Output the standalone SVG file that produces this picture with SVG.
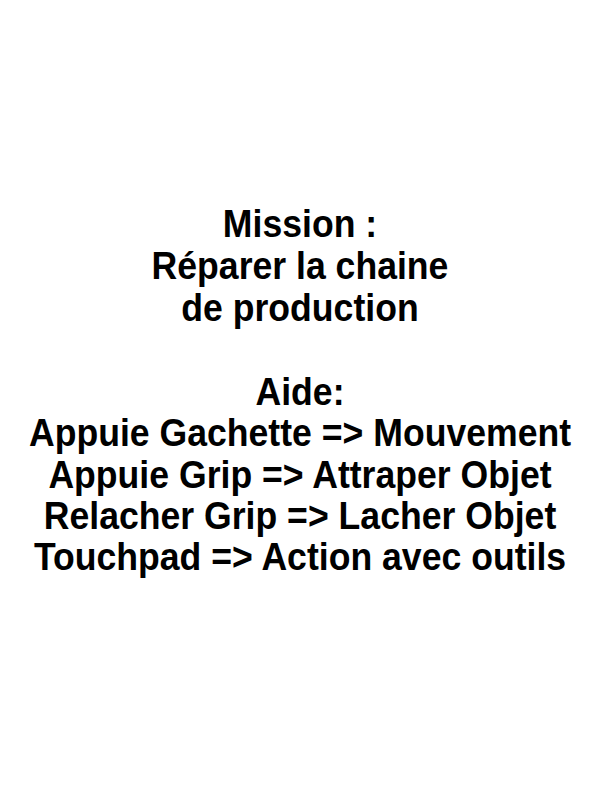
<svg xmlns="http://www.w3.org/2000/svg" width="600" height="800" viewBox="0 0 600 800">
<style>
text{font-family:"Liberation Sans",Arial,sans-serif;font-weight:bold;font-size:38.5px;fill:#000;text-anchor:middle}
</style>
<rect width="600" height="800" fill="#fff"/>
<g transform="translate(300,0) scale(0.925,1) translate(-300,0)">
<g id="mission">
<text x="300" y="237">Mission : </text>
<text x="300" y="279">Réparer la chaine</text>
<text x="300" y="321">de production</text>
</g>
<g id="aide">
<text x="300" y="405">Aide:</text>
<text x="300" y="446">Appuie Gachette =&gt; Mouvement</text>
<text x="300" y="488">Appuie Grip =&gt; Attraper Objet</text>
<text x="300" y="529">Relacher Grip =&gt; Lacher Objet</text>
<text x="300" y="570">Touchpad =&gt; Action avec outils</text>
</g>
</g>
</svg>
